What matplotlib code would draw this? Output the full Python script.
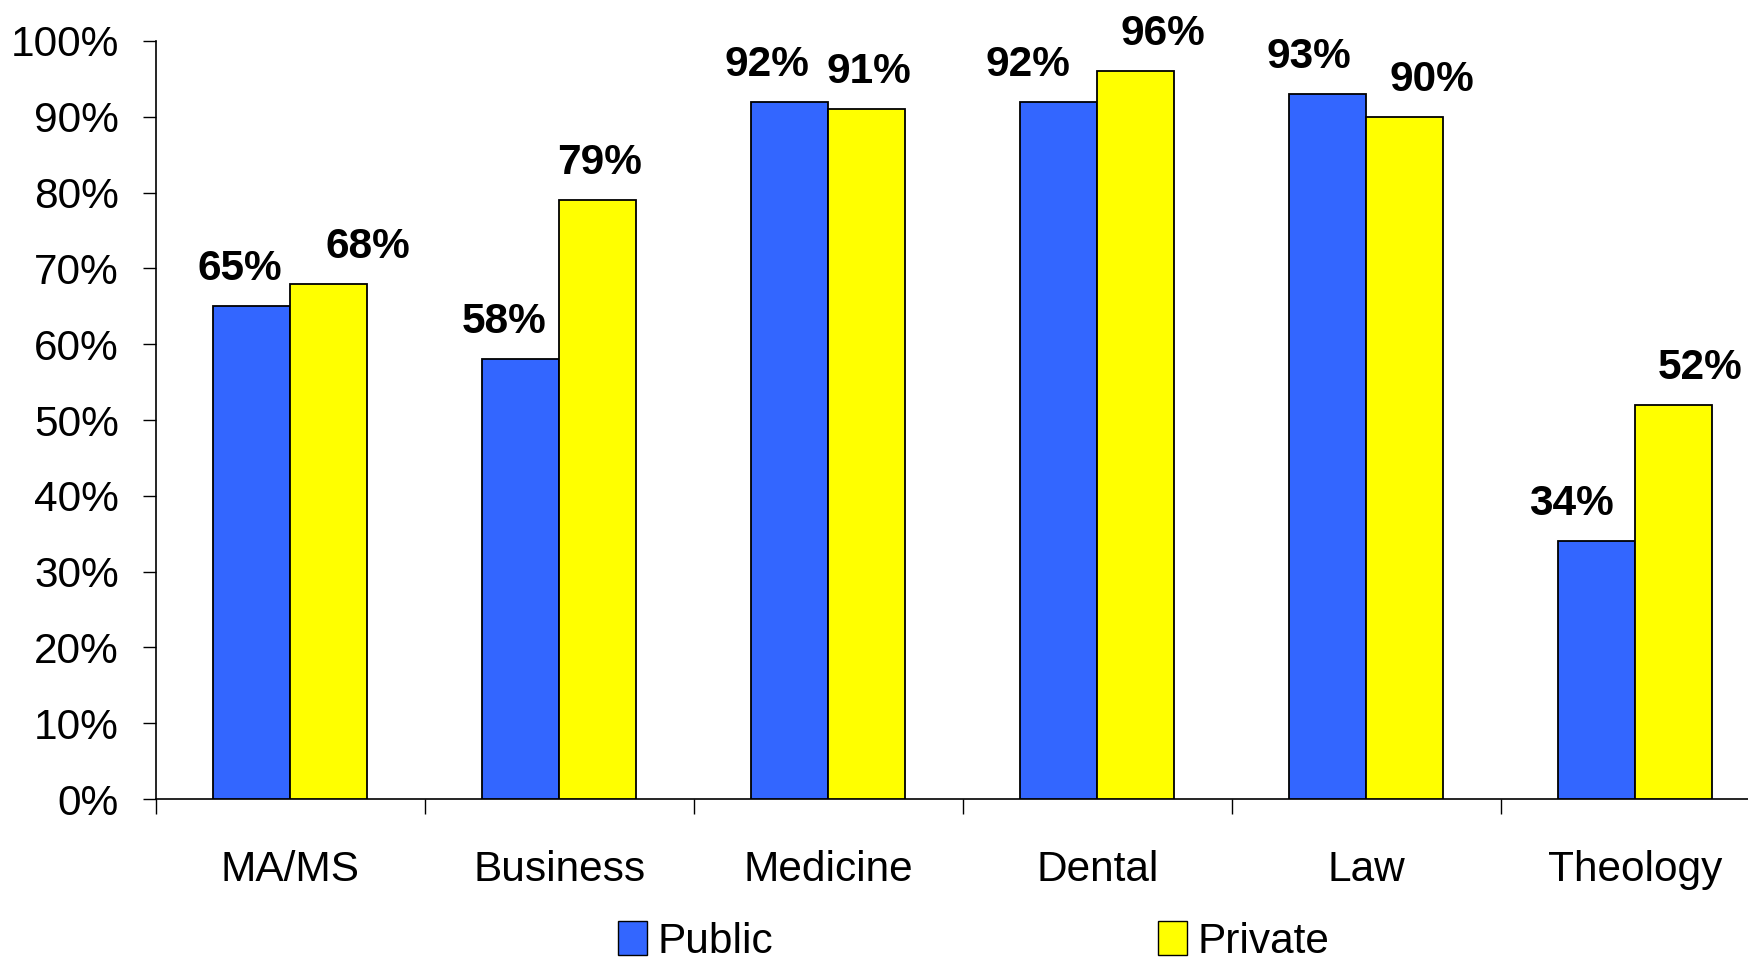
import numpy as np
import matplotlib
import matplotlib.pyplot as plt
from matplotlib.patches import Patch

matplotlib.use('Agg')
plt.rcParams['font.family'] = ['Liberation Sans', 'DejaVu Sans']

# degree types and share of students in each sector
categories = ['MA/MS', 'Business', 'Medicine', 'Dental', 'Law', 'Theology']
public = [65, 58, 92, 92, 93, 34]
private = [68, 79, 91, 96, 90, 52]

# horizontal nudges (pixels) for the value labels
public_dx = [-12, -17, -23, -31, -19, -25]
private_dx = [39, 2, 2, 27, 27, 26]

blue = '#3366FF'
yellow = '#FFFF00'
bar_w = 0.286
fs = 30.5

fig = plt.figure(figsize=(17.48, 9.6), dpi=100)
ax = fig.add_axes([0.0892, 0.1677, 0.9233, 0.7896])

x = np.arange(len(categories))
b1 = ax.bar(x - bar_w / 2, public, bar_w, color=blue, edgecolor='black',
            linewidth=1.3, zorder=3)
b2 = ax.bar(x + bar_w / 2, private, bar_w, color=yellow, edgecolor='black',
            linewidth=1.3, zorder=3)

for bars, vals, dxs in ((b1, public, public_dx), (b2, private, private_dx)):
    for bar, v, dx in zip(bars, vals, dxs):
        ax.annotate('%d%%' % v, (bar.get_x() + bar.get_width() / 2, v),
                    xytext=(dx, 17), textcoords='offset pixels',
                    ha='center', va='bottom', fontsize=fs,
                    fontweight='bold')

ax.set_xlim(-0.5, len(categories) - 0.5)
ax.set_ylim(0, 100)
ax.set_yticks(np.arange(0, 101, 10))
ax.set_yticklabels(['%d%%' % t for t in range(0, 101, 10)])
ax.set_xticks(x)
ax.set_xticklabels(categories)
ax.set_xticks(np.arange(-0.5, len(categories)), minor=True)
ax.tick_params(axis='x', which='major', length=0, pad=37, labelsize=fs)
ax.tick_params(axis='x', which='minor', direction='out', length=11,
               width=1)
ax.tick_params(axis='y', direction='out', length=9.5, width=1, pad=17,
               labelsize=fs)
for side in ('top', 'right'):
    ax.spines[side].set_visible(False)
for side in ('left', 'bottom'):
    ax.spines[side].set_linewidth(1.2)

handles = [Patch(facecolor=blue, edgecolor='black', label='Public'),
           Patch(facecolor=yellow, edgecolor='black', label='Private')]
fig.legend(handles=handles, loc='center', bbox_to_anchor=(0.557, 0.0195),
           ncol=2, frameon=False, fontsize=fs, handlelength=0.68,
           handleheight=0.85, handletextpad=0.25, columnspacing=9.1)

fig.savefig('out.png', dpi=100)
plt.close()
